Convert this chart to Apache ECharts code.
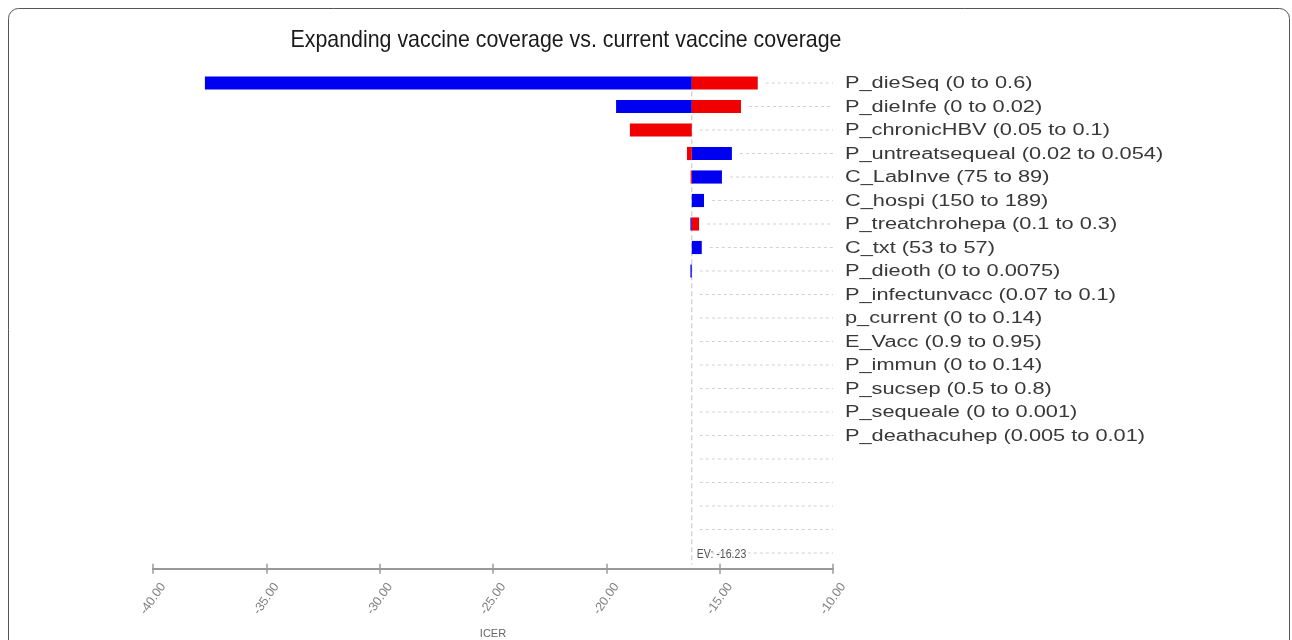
<!DOCTYPE html>
<html>
<head>
<meta charset="utf-8">
<script src="https://cdn.jsdelivr.net/npm/echarts@6/dist/echarts.min.js"></script>
<style>
  html, body { margin: 0; padding: 0; background: #ffffff; }
  #chart { width: 1292px; height: 640px; }
</style>
</head>
<body>
<div id="chart"></div>
<script>
// Tornado diagram: one-way sensitivity of the ICER to each parameter range
const parameters = [
  'P_dieSeq (0 to 0.6)',
  'P_dieInfe (0 to 0.02)',
  'P_chronicHBV (0.05 to 0.1)',
  'P_untreatsequeal (0.02 to 0.054)',
  'C_LabInve (75 to 89)',
  'C_hospi (150 to 189)',
  'P_treatchrohepa (0.1 to 0.3)',
  'C_txt (53 to 57)',
  'P_dieoth (0 to 0.0075)',
  'P_infectunvacc (0.07 to 0.1)',
  'p_current (0 to 0.14)',
  'E_Vacc (0.9 to 0.95)',
  'P_immun (0 to 0.14)',
  'P_sucsep (0.5 to 0.8)',
  'P_sequeale (0 to 0.001)',
  'P_deathacuhep (0.005 to 0.01)',
  '', '', '', '', ''
];
// ICER at one end of each range (blue) and at the other end (red)
const blueEnd = [-37.71, -19.57, -16.23, -14.46, -14.90, -15.69, -16.29, -15.79, -16.29,
  -16.23, -16.23, -16.23, -16.23, -16.23, -16.23, -16.23, -16.23, -16.23, -16.23, -16.23, -16.23];
const redEnd = [-13.32, -14.06, -18.96, -16.44, -16.28, -16.23, -15.91, -16.23, -16.23,
  -16.23, -16.23, -16.23, -16.23, -16.23, -16.23, -16.23, -16.23, -16.23, -16.23, -16.23, -16.23];
const expectedValue = -16.23;
const xMin = -40, xMax = -10, xStep = 5;
const axisTitle = 'ICER';
const chartTitle = 'Expanding vaccine coverage vs. current vaccine coverage';

const sans = "'Liberation Sans', Arial, sans-serif";
const rows = parameters.map((p, i) => [i, blueEnd[i], redEnd[i]]);

function barItem(params, api) {
  const i = api.value(0);
  const base = api.coord([expectedValue, i]);
  const h = api.size([0, 1])[1] * 0.56;
  const children = [];
  [[api.value(1), '#0000f0'], [api.value(2), '#f00000']].forEach(([v, color]) => {
    const x = api.coord([v, i])[0];
    const w = Math.abs(x - base[0]);
    if (w > 0.5) {
      children.push({
        type: 'rect',
        shape: { x: Math.min(x, base[0]), y: base[1] - h / 2, width: w, height: h },
        style: { fill: color }
      });
    }
  });
  return { type: 'group', children };
}

function guideItem(params, api) {
  const i = api.value(0);
  const right = Math.max(api.value(1), api.value(2), expectedValue);
  const p0 = api.coord([right, i]);
  const p1 = api.coord([xMax, i]);
  return {
    type: 'line',
    shape: { x1: p0[0] + 8, y1: p0[1], x2: p1[0], y2: p1[1] },
    style: { stroke: '#d2d2d2', lineWidth: 1, lineDash: [3, 3] }
  };
}

// Parameter names sit to the right of the plotting area, one per row
function nameItem(params, api) {
  const i = api.value(0);
  const p = api.coord([xMax, i]);
  return {
    type: 'text',
    x: p[0] + 12, y: p[1] + 1,
    scaleX: 1.36,
    style: {
      text: parameters[i], fill: '#383838', font: '16px ' + sans,
      align: 'left', verticalAlign: 'middle'
    }
  };
}

function evItem(params, api) {
  const top = api.coord([api.value(0), 0]);
  const bottom = api.coord([api.value(0), parameters.length - 1]);
  const half = api.size([0, 1])[1] / 2;
  return {
    type: 'group',
    children: [
      {
        type: 'line',
        shape: { x1: top[0], y1: top[1] - half + 4, x2: bottom[0], y2: bottom[1] + half },
        style: { stroke: '#c4c4c4', lineWidth: 1, lineDash: [5, 3] }
      },
      {
        type: 'text',
        x: bottom[0] + 5, y: bottom[1] + 2,
        scaleX: 0.88,
        style: {
          text: 'EV: ' + api.value(0).toFixed(2),
          fill: '#555', font: '12px ' + sans,
          verticalAlign: 'middle', align: 'left'
        }
      }
    ]
  };
}

const chart = echarts.init(document.getElementById('chart'));
chart.setOption({
  animation: false,
  backgroundColor: '#ffffff',
  graphic: [{
    type: 'rect', silent: true,
    shape: { x: 8.5, y: 8.5, width: 1281, height: 680, r: 10 },
    style: { fill: 'none', stroke: '#555', lineWidth: 1 }
  }, {
    type: 'text', silent: true,
    x: 566, y: 40, scaleX: 0.89, originX: 0,
    style: {
      text: chartTitle, fill: '#1a1a1a', font: '24px ' + sans,
      align: 'center', verticalAlign: 'middle'
    }
  }],
  grid: { left: 153, width: 680, top: 71.25, height: 493.5, outerBoundsMode: 'none', containLabel: false },
  xAxis: [{
    type: 'value', min: xMin, max: xMax, interval: xStep,
    position: 'bottom', offset: 4,
    axisLine: { show: true, lineStyle: { color: '#9a9a9a', width: 2 } },
    axisTick: { show: true, length: 5, lineStyle: { color: '#9a9a9a', width: 1.5 } },
    splitLine: { show: false },
    axisLabel: {
      rotate: 55, margin: 30, align: 'center', verticalAlign: 'middle',
      color: '#808080', fontSize: 12.5, fontFamily: sans,
      formatter: v => v.toFixed(2)
    },
    name: axisTitle, nameLocation: 'middle', nameGap: 60,
    nameTextStyle: { color: '#666', fontSize: 11, fontFamily: sans }
  }, {
    type: 'value', min: xMin, max: xMax, interval: xStep,
    position: 'bottom', offset: 4,
    axisLine: { show: false },
    axisTick: { show: true, inside: true, length: 5, lineStyle: { color: '#9a9a9a', width: 1.5 } },
    axisLabel: { show: false },
    splitLine: { show: false }
  }],
  yAxis: {
    type: 'category', data: parameters, inverse: true, position: 'right',
    axisLine: { show: false }, axisTick: { show: false }, splitLine: { show: false },
    axisLabel: { show: false }
  },
  series: [
    {
      type: 'custom', name: 'guides', renderItem: guideItem, data: rows,
      encode: { x: [1, 2], y: 0 }, silent: true, z: 1
    },
    {
      type: 'custom', name: 'ev', renderItem: evItem, data: [[expectedValue]],
      encode: { x: 0 }, silent: true, z: 2, clip: false
    },
    {
      type: 'custom', name: 'range', renderItem: barItem, data: rows,
      encode: { x: [1, 2], y: 0 }, z: 3
    },
    {
      type: 'custom', name: 'names', renderItem: nameItem, data: rows,
      encode: { x: [1, 2], y: 0 }, silent: true, z: 3, clip: false
    }
  ]
});
</script>
</body>
</html>
